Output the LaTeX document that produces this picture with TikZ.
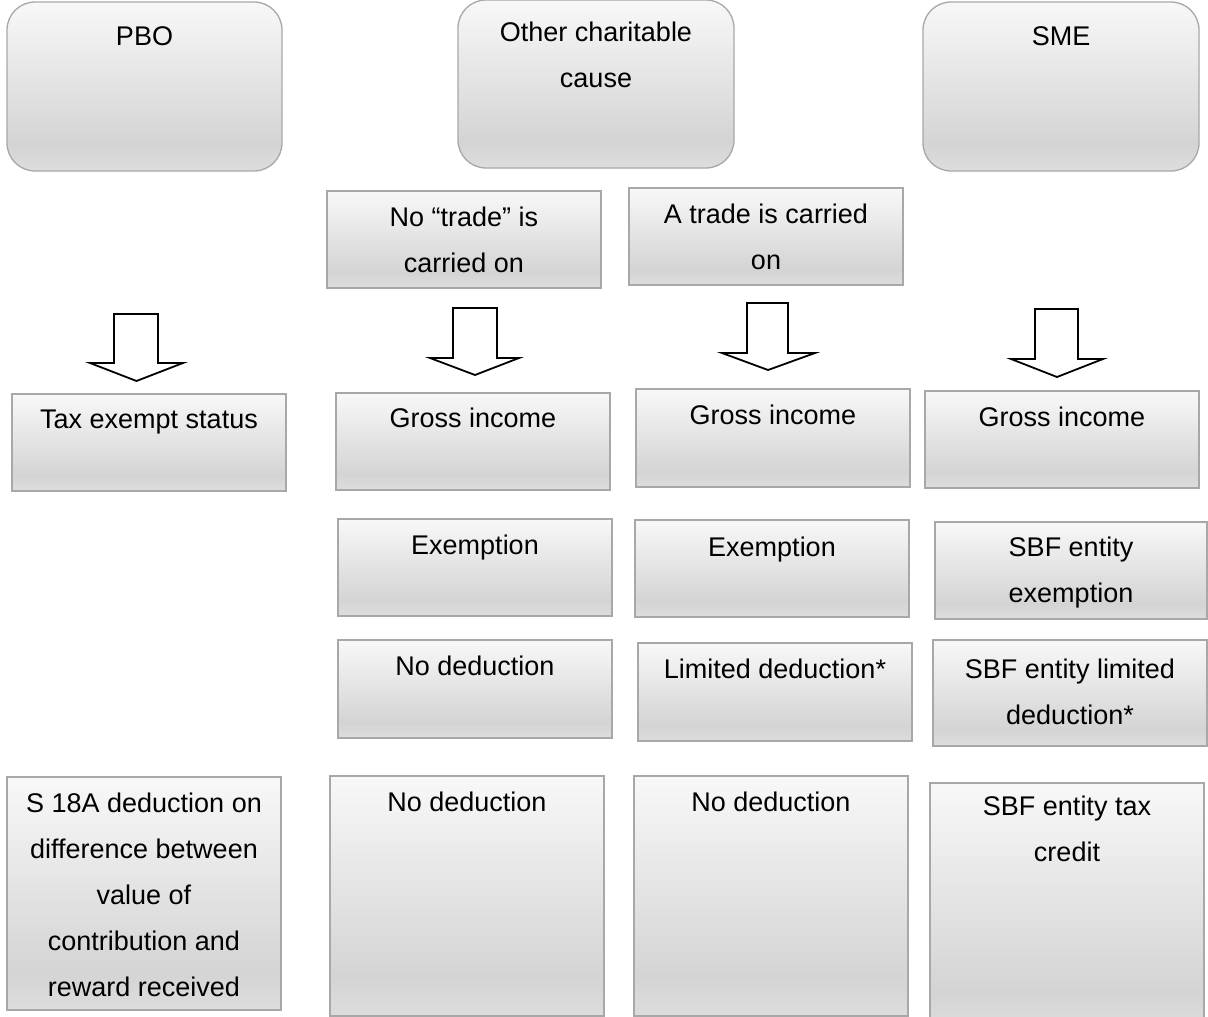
\documentclass[tikz,border=0pt]{standalone}
\usepackage{fontspec}
\setmainfont{Liberation Sans}
\definecolor{shbot}{HTML}{DDDDDD}
\definecolor{shmid}{HTML}{D4D4D4}
\definecolor{shtop}{HTML}{F8F8F8}
\definecolor{bordergray}{HTML}{A8A8A8}
\pgfdeclareverticalshading{boxshade}{100bp}{color(0bp)=(shbot); color(25bp)=(shbot); color(33bp)=(shmid); color(75bp)=(shtop); color(100bp)=(shtop)}
\tikzset{
  box/.style={draw=bordergray, line width=1.3pt, shading=boxshade, inner sep=0pt, outer sep=0pt},
  roundbox/.style={box, rounded corners=28pt},
  txt/.style={anchor=base, align=center, inner sep=0pt, font=\fontsize{27}{46}\selectfont, text=black},
  blockarrow/.style={draw=black, line width=1.8pt, fill=white, line join=miter}
}
\newcommand\mybox[6]{%
  \node[#6, minimum width={(#4-#2)*1pt}, minimum height={(#5-#3)*1pt}] (#1) at ({(#2+#4)/2},{(#3+#5)/2}) {};}
\newcommand\blockarr[9]{%
  \draw[blockarrow] (#1,#3) -- (#2,#3) -- (#2,#4) -- (#6,#4) -- (#9,#7) -- (#5,#4) -- (#1,#4) -- cycle;}
\begin{document}
\begin{tikzpicture}[x=1pt,y=-1pt]
\useasboundingbox[fill=white] (0,0) rectangle (1208,1017);
% top row
\mybox{pbo}{7}{2}{282}{171}{roundbox}
\mybox{other}{458}{0}{734}{168}{roundbox}
\mybox{sme}{923}{2}{1199}{171}{roundbox}
% text nodes: anchor = baseline of the LAST line
\node[txt] (pbo-t) at (144.5,45) {PBO};
\node[txt] (other-t) at (596,87) {Other charitable\\cause};
\node[txt] (sme-t) at (1061,45) {SME};
% second row
\mybox{notrade}{327}{191}{601}{288}{box}
\mybox{trade}{629}{188}{903}{285}{box}
\node[txt] (notrade-t) at (464,272) {No “trade” is\\carried on};
\node[txt] (trade-t) at (766,269) {A trade is carried\\on};
% block arrows: shaft left, shaft right, top, wing y, head left, head right, tip y, -, tip x
\blockarr{114}{158}{314}{363}{90}{183}{381}{}{136.5}
\blockarr{453}{497}{308}{358}{430}{519}{375}{}{475}
\blockarr{747}{788}{303}{353}{722}{815}{370}{}{768}
\blockarr{1035}{1078}{309}{359}{1011}{1103}{377}{}{1057}
% third row
\mybox{taxex}{12}{394}{286}{491}{box}
\mybox{gross2}{336}{393}{610}{490}{box}
\mybox{gross3}{636}{389}{910}{487}{box}
\mybox{gross4}{925}{391}{1199}{488}{box}
\node[txt] (taxex-t) at (149,428) {Tax exempt status};
\node[txt] (gross2-t) at (473,427) {Gross income};
\node[txt] (gross3-t) at (773,424) {Gross income};
\node[txt] (gross4-t) at (1062,426) {Gross income};
% fourth row
\mybox{exem2}{338}{519}{612}{616}{box}
\mybox{exem3}{635}{520}{909}{617}{box}
\mybox{exem4}{935}{522}{1207}{619}{box}
\node[txt] (exem2-t) at (475,554) {Exemption};
\node[txt] (exem3-t) at (772,556) {Exemption};
\node[txt] (exem4-t) at (1071,602) {SBF entity\\exemption};
% fifth row
\mybox{ded2}{338}{640}{612}{738}{box}
\mybox{ded3}{638}{643}{912}{741}{box}
\mybox{ded4}{933}{640}{1207}{746}{box}
\node[txt] (ded2-t) at (475,675) {No deduction};
\node[txt] (ded3-t) at (775,678) {Limited deduction*};
\node[txt] (ded4-t) at (1070,724) {SBF entity limited\\deduction*};
% bottom row
\mybox{s18a}{7}{777}{281}{1010}{box}
\mybox{bot2}{330}{776}{604}{1016}{box}
\mybox{bot3}{634}{776}{908}{1016}{box}
\mybox{bot4}{930}{783}{1204}{1030}{box}
\node[txt] (s18a-t) at (144,996) {S 18A deduction on\\difference between\\value of\\contribution and\\reward received};
\node[txt] (bot2-t) at (467,811) {No deduction};
\node[txt] (bot3-t) at (771,811) {No deduction};
\node[txt] (bot4-t) at (1067,861) {SBF entity tax\\credit};
\end{tikzpicture}
\end{document}
